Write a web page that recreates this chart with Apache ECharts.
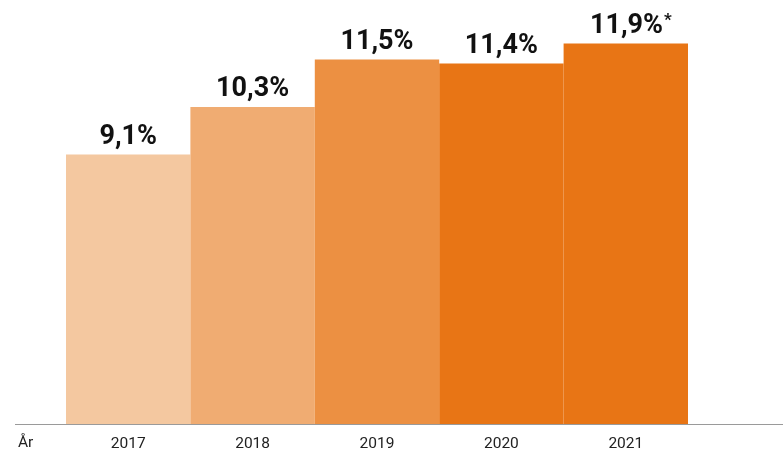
<!DOCTYPE html>
<html>
<head>
<meta charset="utf-8">
<script src="https://cdn.jsdelivr.net/npm/echarts@6/dist/echarts.min.js"></script>
<style>
  html, body { margin: 0; padding: 0; background: #fff; }
  #chart { width: 783px; height: 455px; }
</style>
</head>
<body>
<div id="chart"></div>
<script>
// data
const years = ['2017', '2018', '2019', '2020', '2021'];
const shares = [9.1, 10.3, 11.5, 11.4, 11.9];
const barColors = ['#F4C8A0', '#F0AC72', '#EC9042', '#E87515', '#E87515'];
const footnoteYear = '2021';

const fmt = v => String(v).replace('.', ',') + '%';

let myChart = echarts.init(document.getElementById('chart'));

myChart.setOption({
  animation: false,
  grid: { left: 66, right: 95, top: 0, bottom: 31 },
  xAxis: {
    type: 'category',
    data: years,
    axisLine: { show: false },
    axisTick: { show: false },
    axisLabel: {
      fontFamily: 'Roboto',
      fontSize: 15.5,
      color: '#222',
      margin: 12
    }
  },
  yAxis: {
    type: 'value',
    min: 2.3,
    max: 13,
    show: false,
    splitLine: { show: false }
  },
  series: [{
    type: 'bar',
    barCategoryGap: 0,
    barWidth: '100%',
    data: shares.map((v, i) => ({
      value: v,
      itemStyle: { color: barColors[i] },
      label: years[i] === footnoteYear
        ? { formatter: '{a|' + fmt(v) + '}{s|*}', padding: [0, 0, 0, 10] }
        : {}
    })),
    label: {
      show: true,
      position: 'top',
      distance: 4,
      formatter: p => fmt(p.value),
      fontFamily: 'Roboto',
      fontWeight: 'bold',
      fontSize: 27,
      color: '#111',
      rich: {
        a: { fontFamily: 'Roboto', fontWeight: 'bold', fontSize: 27, color: '#111' },
        s: { fontFamily: 'Roboto', fontWeight: 'bold', fontSize: 17, color: '#111', verticalAlign: 'top', padding: [0, 0, 10, 1] }
      }
    }
  }],
  graphic: [
    {
      type: 'line',
      shape: { x1: 15, y1: 424.5, x2: 783, y2: 424.5 },
      style: { stroke: '#9a9a9a', lineWidth: 1 },
      z: 10
    },
    {
      type: 'text',
      left: 18,
      top: 435,
      style: { text: 'År', fontFamily: 'Roboto', fontSize: 15.5, fill: '#222' }
    }
  ]
});

window.onresize = function () {
  myChart.resize();
};
</script>
</body>
</html>
